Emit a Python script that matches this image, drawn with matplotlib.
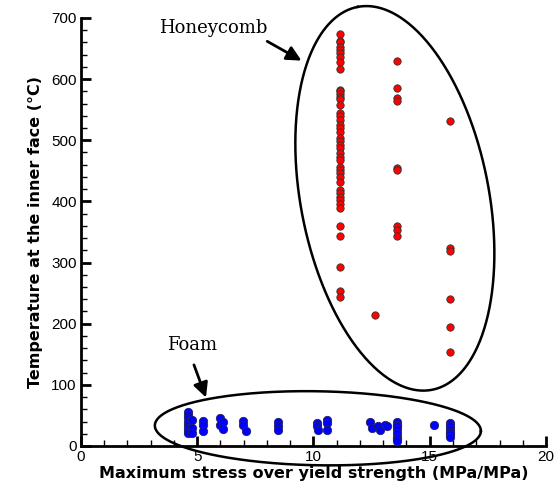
import numpy as np
import matplotlib
matplotlib.use('Agg')
import matplotlib.pyplot as plt
from matplotlib.ticker import MultipleLocator

# Honeycomb results (x: stress ratio, y: inner face temperature)
honey_x = [11.15] * 44 + [13.6] * 9 + [15.87] * 6 + [12.65]
honey_y = [673, 663, 660, 653, 648, 642, 636, 628, 617, 583, 580, 575, 571, 567,
           558, 544, 539, 533, 525, 520, 514, 503, 498, 492, 487, 479, 473, 468,
           457, 451, 446, 440, 432, 419, 413, 408, 402, 396, 389, 359, 343, 293,
           254, 243,
           629, 585, 569, 565, 454, 451, 360, 354, 343,
           532, 323, 319, 240, 194, 153,
           214]

# Foam results
foam_x = [4.59, 4.59, 4.59, 4.59, 4.59, 4.59, 4.59, 4.59, 4.76, 4.76, 4.76,
          5.23, 5.23, 5.23,
          5.98, 5.98, 6.1, 6.1,
          6.98, 6.98, 7.1,
          8.47, 8.47, 8.47,
          10.14, 10.14, 10.2, 10.57, 10.57, 10.57,
          12.43, 12.5, 12.79, 12.86, 13.07, 13.15,
          13.6, 13.6, 13.6, 13.6, 13.6, 13.6, 13.6, 13.6,
          15.18,
          15.87, 15.87, 15.87, 15.87, 15.87, 15.87]
foam_y = [56, 50, 45, 40, 35, 30, 25, 22, 42, 30, 22,
          41, 34, 25,
          45, 35, 40, 27,
          41, 35, 25,
          40, 32, 26,
          37, 32, 26, 42, 37, 26,
          40, 29, 32, 26, 34, 32,
          40, 35, 32, 27, 22, 15, 12, 8,
          35,
          37, 32, 27, 23, 19, 14]

fig = plt.figure(figsize=(5.54, 4.92), dpi=100)
ax = fig.add_axes([0.146, 0.0935, 0.8396, 0.87])

ax.scatter(honey_x, honey_y, s=28, c='#ff0000', edgecolors='#333333', linewidths=0.6, zorder=3)
ax.scatter(foam_x, foam_y, s=36, c='#0000ff', edgecolors='#222266', linewidths=0.6, zorder=3)

ax.set_xlim(0, 20)
ax.set_ylim(0, 700)
ax.xaxis.set_major_locator(MultipleLocator(5))
ax.xaxis.set_minor_locator(MultipleLocator(1))
ax.yaxis.set_major_locator(MultipleLocator(100))
ax.yaxis.set_minor_locator(MultipleLocator(20))

for s in ['top', 'right']:
    ax.spines[s].set_visible(False)
for s in ['left', 'bottom']:
    ax.spines[s].set_linewidth(2)
ax.tick_params(which='major', direction='in', length=7, width=2, labelsize=11, pad=3)
ax.tick_params(which='minor', direction='in', length=4, width=1)
for lab in ax.get_xticklabels() + ax.get_yticklabels():
    lab.set_fontfamily('Liberation Sans')

ax.set_xlabel('Maximum stress over yield strength (MPa/MPa)', fontsize=11.5,
              fontweight='bold', family='DejaVu Sans', labelpad=1)
ax.set_ylabel('Temperature at the inner face (°C)', fontsize=11.5,
              fontweight='bold', family='DejaVu Sans', labelpad=6)

# ellipses drawn in pixel space, converted to data units
px_x = 465 / 20.0
px_y = 428 / 700.0
t = np.linspace(0, 2 * np.pi, 400)


def draw_ellipse(cx, cy, a, b, ang):
    th = np.deg2rad(ang)
    ex = a * np.cos(t) * np.cos(th) - b * np.sin(t) * np.sin(th)
    ey = a * np.cos(t) * np.sin(th) + b * np.sin(t) * np.cos(th)
    ax.plot(cx + ex / px_x, cy + ey / px_y, color='black', lw=1.8, clip_on=False, zorder=2)


draw_ellipse(13.5, 405, 195, 94, 101)
draw_ellipse(10.19, 29, 163, 37, -1)

serif = 'DejaVu Serif'
ax.text(5.68, 684, 'Honeycomb', fontsize=13, family=serif, ha='center', va='center')
ax.annotate('', xy=(9.59, 628), xytext=(7.91, 664),
            arrowprops=dict(arrowstyle='-|>', lw=2, color='black', mutation_scale=22))
ax.text(4.77, 165, 'Foam', fontsize=13, family=serif, ha='center', va='center')
ax.annotate('', xy=(5.42, 75), xytext=(4.82, 137),
            arrowprops=dict(arrowstyle='-|>', lw=2, color='black', mutation_scale=22))

fig.savefig('out.png', dpi=100)
